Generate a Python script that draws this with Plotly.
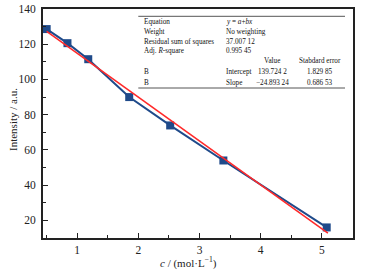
import plotly.graph_objects as go

conc = [0.5, 0.84, 1.18, 1.85, 2.52, 3.39, 5.08]
intensity = [128.6, 120.6, 111.5, 90.0, 73.9, 54.0, 16.0]
intercept = 139.7242
slope = -24.89324

fit_x = [0.5, 5.1]
fit_y = [intercept + slope * v for v in fit_x]

tbl_col1 = ["Equation", "Weight", "Residual sum of squares", "Adj. <i>R</i>-square", "", "B", "B"]
tbl_col2 = ["<i>y</i> = <i>a</i>+<i>bx</i>", "No weighting", "37.007 12", "0.995 45", "", "Intercept", "Slope"]
tbl_val = ["", "", "", "", "Value", "139.724 2", "−24.893 24"]
tbl_err = ["", "", "", "", "Stabdard error", "1.829 85", "0.686 53"]

FONT = "Liberation Serif"
BLUE = "#1f4a8a"
RED = "#ff2a2a"

fig = go.Figure()
fig.add_trace(go.Scatter(x=conc, y=intensity, mode="lines+markers",
                         line=dict(color=BLUE, width=2),
                         marker=dict(symbol="square", size=8, color=BLUE),
                         showlegend=False))
fig.add_trace(go.Scatter(x=fit_x, y=fit_y, mode="lines",
                         line=dict(color=RED, width=1.6), showlegend=False))

SW, SH = 365, 273
PL, PR, PT, PB = 43, 353, 9, 238   # plot area in screen pixels
pw, ph = PR - PL, PB - PT

def px(x):
    return (x - PL) / pw

def py(y):
    return (PB - y) / ph

row_y = [22, 32.3, 42.3, 51, 61, 72.3, 83]
ann = []
for i, yy in enumerate(row_y):
    for txt, xx, anc in [(tbl_col1[i], 141.5, "left"), (tbl_col2[i], 224, "left"),
                         (tbl_val[i], 272, "center"), (tbl_err[i], 320, "center")]:
        if txt:
            ann.append(dict(x=px(xx), y=py(yy), xref="paper", yref="paper", text=txt,
                            showarrow=False, xanchor=anc, yanchor="middle",
                            font=dict(family=FONT, size=7.2, color="#111")))
ann.append(dict(x=px(13), y=py(120), xref="paper", yref="paper", text="Intensity / a.u.",
                textangle=-90, showarrow=False, xanchor="center", yanchor="middle",
                font=dict(family=FONT, size=11, color="#222")))
ann.append(dict(x=px(188), y=py(262), xref="paper", yref="paper",
                text="<i>c</i> / (mol·L<sup>−1</sup>)",
                showarrow=False, xanchor="center", yanchor="middle",
                font=dict(family=FONT, size=11, color="#222")))
shapes = []
for yy in [16.3, 88]:
    shapes.append(dict(type="line", xref="paper", yref="paper", x0=px(138.3), x1=px(345),
                       y0=py(yy), y1=py(yy), line=dict(color="#555", width=1)))

fig.update_layout(
    width=SW, height=SH,
    margin=dict(l=PL, r=SW - PR, t=PT, b=SH - PB, autoexpand=False),
    plot_bgcolor="white", paper_bgcolor="white",
    annotations=ann, shapes=shapes,
    font=dict(family=FONT, size=11.5, color="#222"),
    xaxis=dict(range=[0.44, 5.51], tickvals=[1, 2, 3, 4, 5], ticks="inside", ticklen=5,
               tickwidth=1.2, tickcolor="#222", showline=True, linecolor="#222", linewidth=1.8,
               mirror=True, showgrid=False, zeroline=False, ticklabelstandoff=0, automargin=False,
               ticklabeloverflow="allow",
               minor=dict(dtick=0.5, tick0=0, ticks="inside", ticklen=3, tickcolor="#222", showgrid=False)),
    yaxis=dict(range=[10, 140], tickvals=[20, 40, 60, 80, 100, 120, 140], ticks="inside", ticklen=5,
               tickwidth=1.2, tickcolor="#222", showline=True, linecolor="#222", linewidth=1.8,
               mirror=True, showgrid=False, zeroline=False, ticklabelstandoff=3, automargin=False,
               ticklabeloverflow="allow",
               minor=dict(dtick=10, tick0=0, ticks="inside", ticklen=3, tickcolor="#222", showgrid=False)),
)

fig.write_html("out.html", config={"displayModeBar": False},
               post_script="document.body.style.margin='0';document.body.style.overflow='hidden';")
